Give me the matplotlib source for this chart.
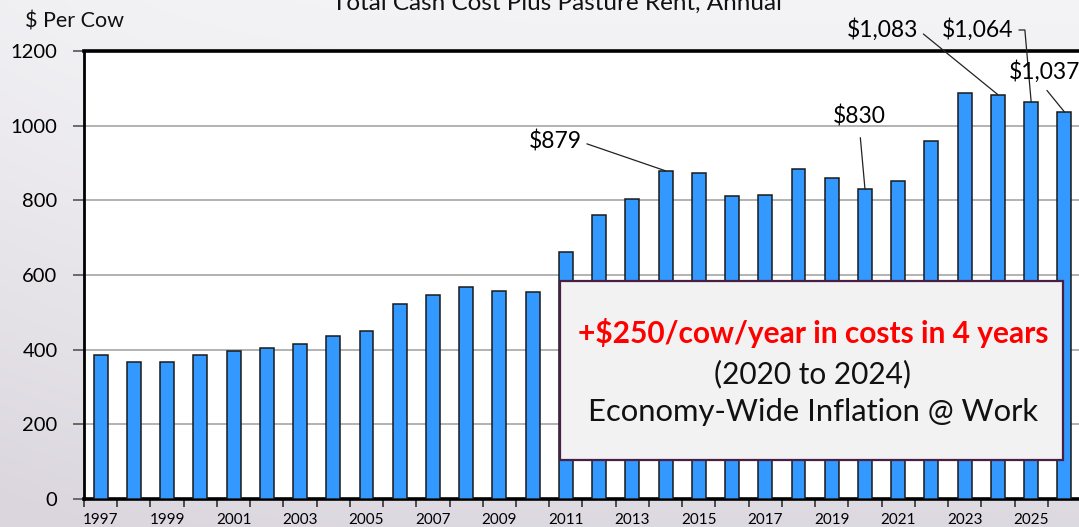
import numpy as np
import matplotlib
matplotlib.use("Agg")
import matplotlib.pyplot as plt
from matplotlib.patches import Rectangle

years = list(range(1997, 2027))
values = [385, 366, 366, 385, 397, 405, 416, 436, 449, 522, 546, 568, 556, 555,
          662, 762, 804, 879, 872, 811, 814, 883, 860, 830, 852, 960, 1087, 1083, 1064, 1037]
tick_years = [str(y) for y in years]
yticks = [0, 200, 400, 600, 800, 1000, 1200]
title = "Total Cash Cost Plus Pasture Rent, Annual"
ylabel = "$ Per Cow"
callouts = [("$879", 2014), ("$830", 2020), ("$1,083", 2024), ("$1,064", 2025), ("$1,037", 2026)]
box_lines = ["+$250/cow/year in costs in 4 years", "(2020 to 2024)", "Economy-Wide Inflation @ Work"]

plt.rcParams['font.family'] = ['Lato', 'DejaVu Sans']

W, H = 1079, 527
fig = plt.figure(figsize=(W / 100, H / 100), dpi=100)

# background gradient
bg = fig.add_axes([0, 0, 1, 1], zorder=-10)
yy = np.linspace(0, 1, 200)[:, None]
xx = np.linspace(0, 1, 300)[None, :]
top = np.array([0.955, 0.955, 0.965])
bot = np.array([0.86, 0.84, 0.87])
t = (yy ** 1.2) * 0.9 + (1 - xx) ** 6 * 0.15
t = np.clip(t, 0, 1)
img = top[None, None, :] * (1 - t[..., None]) + bot[None, None, :] * t[..., None]
bg.imshow(img, aspect='auto', extent=[0, 1, 0, 1], origin='upper')
bg.axis('off')

left_px, right_px, top_px, bot_px = 84, 1081, 51, 499
ax = fig.add_axes([left_px / W, 1 - bot_px / H, (right_px - left_px) / W, (bot_px - top_px) / H])
ax.set_facecolor('white')

x = np.arange(len(years))
ax.bar(x, values, width=0.42, color='#3399ff', edgecolor='#1a1a1a', linewidth=1.1, zorder=3)

ax.set_xlim(-0.5, len(years) - 0.5)
ax.set_ylim(0, 1200)
ax.set_yticks(yticks)
ax.set_yticklabels([str(v) for v in yticks], fontsize=14.5)
ax.yaxis.grid(True, color='#a6a6a6', linewidth=1.2, zorder=0)
ax.set_axisbelow(True)

ax.set_xticks(np.arange(-0.5, len(years), 1.0))
ax.set_xticklabels([])
ax.set_xticks(x[::2], minor=True)
ax.set_xticklabels(tick_years[::2], minor=True, fontsize=11)
ax.tick_params(axis='x', which='major', length=6, width=1.2, direction='out', color='#333333')
ax.tick_params(axis='x', which='minor', length=0, pad=10)
ax.tick_params(axis='y', length=8, width=1.2, color='#555555', pad=11)

ax.spines['left'].set_linewidth(2.0)
for s in ['top', 'bottom']:
    ax.spines[s].set_linewidth(2.6)
ax.spines['right'].set_visible(False)

fig.text(557 / W, 1 - 10 / H, title, ha='center', va='baseline', fontsize=17.5, color='#111111')
fig.text(25 / W, 1 - 21 / H, ylabel, ha='left', va='center', fontsize=15.5, color='#111111')

def px2data(px, py):
    return (px - 100) / 33.24, (499 - py) / 0.37333

idx = {y: i for i, y in enumerate(years)}
val = dict(zip(years, values))
lp = dict(arrowstyle='-', color='#222222', lw=0.9, shrinkA=2, shrinkB=0)
fs = 16.5

# $879
tx, ty = px2data(581, 142)
ax.annotate(callouts[0][0], xy=(idx[2014], val[2014]), xytext=(tx, ty), ha='right', va='center',
            fontsize=fs, arrowprops=dict(lp, relpos=(1, 0.5)), annotation_clip=False, zorder=5)
# $830
tx, ty = px2data(859, 117)
ax.annotate(callouts[1][0], xy=(idx[2020], val[2020]), xytext=(tx, ty), ha='center', va='center',
            fontsize=fs, arrowprops=dict(lp, relpos=(0.5, 0), shrinkA=5), annotation_clip=False, zorder=5)
# $1,083
tx, ty = px2data(918, 30)
ax.annotate(callouts[2][0], xy=(idx[2024], val[2024]), xytext=(tx, ty), ha='right', va='center',
            fontsize=fs, arrowprops=dict(lp, relpos=(1, 0.5)), annotation_clip=False, zorder=5)
# $1,064
tx, ty = px2data(1013, 30)
ax.annotate(callouts[3][0], xy=(idx[2025], val[2025]), xytext=(tx, ty), ha='right', va='center',
            fontsize=fs, arrowprops=dict(lp, relpos=(1, 0.5),
                                         connectionstyle="angle,angleA=0,angleB=95,rad=0"),
            annotation_clip=False, zorder=5)
# $1,037
tx, ty = px2data(1080, 72)
ax.annotate(callouts[4][0], xy=(idx[2026], val[2026]), xytext=(tx, ty), ha='right', va='center',
            fontsize=fs, arrowprops=dict(lp, relpos=(0.45, 0), shrinkA=4), annotation_clip=False, zorder=5)

# text box
bx0, by0 = 560 / W, 1 - 460 / H
bw, bh = (1063 - 560) / W, (460 - 281) / H
fig.patches.append(Rectangle((bx0, by0), bw, bh, transform=fig.transFigure, facecolor='#f2f2f2',
                             edgecolor='#4a1f45', linewidth=1.6, zorder=20))
cx = 813 / W
fig.text(cx, 1 - 333 / H, box_lines[0], ha='center', va='center', fontsize=21.5, color='#ff0000',
         fontweight='bold', zorder=21)
fig.text(cx, 1 - 374 / H, box_lines[1], ha='center', va='center', fontsize=21.5, color='#111111', zorder=21)
fig.text(cx, 1 - 412 / H, box_lines[2], ha='center', va='center', fontsize=22.3, color='#111111', zorder=21)

fig.savefig('out.png', dpi=100)
